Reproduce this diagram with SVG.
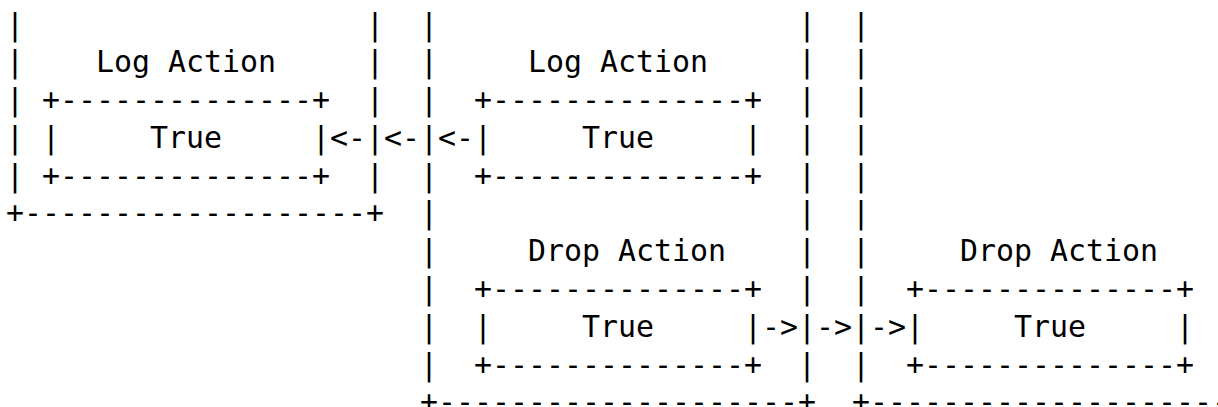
<svg xmlns="http://www.w3.org/2000/svg" width="1218" height="407" viewBox="0 0 1218 407">
<style>
text { font-family: "DejaVu Sans Mono", "Liberation Mono", monospace; font-size: 29.9px; fill: #000; }
</style>
<rect x="0" y="0" width="1218" height="407" fill="#fff"/>
<g id="outer-left">
<text x="6" y="34.5">|</text><text x="366" y="34.5">|</text>
<text x="6" y="72.3">|</text><text x="366" y="72.3">|</text>
<text x="6" y="110.1">|</text><text x="366" y="110.1">|</text>
<text x="6" y="147.8">|</text><text x="366" y="147.8">|</text>
<text x="6" y="185.6">|</text><text x="366" y="185.6">|</text>
<text x="6" y="223.4">+-------------------+</text>
</g>
<g id="log-action-1">
<text x="96" y="72.3">Log Action</text>
<text x="42" y="110.1">+--------------+</text>
<text x="42" y="147.8">|</text><text x="150" y="147.8">True</text><text x="312" y="147.8">|</text>
<text x="42" y="185.6">+--------------+</text>
</g>
<g id="outer-middle">
<text x="420" y="34.5">|</text><text x="798" y="34.5">|</text>
<text x="420" y="72.3">|</text><text x="798" y="72.3">|</text>
<text x="420" y="110.1">|</text><text x="798" y="110.1">|</text>
<text x="420" y="147.8">|</text><text x="798" y="147.8">|</text>
<text x="420" y="185.6">|</text><text x="798" y="185.6">|</text>
<text x="420" y="223.4">|</text><text x="798" y="223.4">|</text>
<text x="420" y="261.2">|</text><text x="798" y="261.2">|</text>
<text x="420" y="298.9">|</text><text x="798" y="298.9">|</text>
<text x="420" y="336.7">|</text><text x="798" y="336.7">|</text>
<text x="420" y="374.5">|</text><text x="798" y="374.5">|</text>
<text x="420" y="412.3">+--------------------+</text>
</g>
<g id="log-action-2">
<text x="528" y="72.3">Log Action</text>
<text x="474" y="110.1">+--------------+</text>
<text x="474" y="147.8">|</text><text x="582" y="147.8">True</text><text x="744" y="147.8">|</text>
<text x="474" y="185.6">+--------------+</text>
</g>
<g id="drop-action-1">
<text x="528" y="261.2">Drop Action</text>
<text x="474" y="298.9">+--------------+</text>
<text x="474" y="336.7">|</text><text x="582" y="336.7">True</text><text x="744" y="336.7">|</text>
<text x="474" y="374.5">+--------------+</text>
</g>
<g id="outer-right">
<text x="852" y="34.5">|</text>
<text x="852" y="72.3">|</text>
<text x="852" y="110.1">|</text>
<text x="852" y="147.8">|</text>
<text x="852" y="185.6">|</text>
<text x="852" y="223.4">|</text>
<text x="852" y="261.2">|</text>
<text x="852" y="298.9">|</text>
<text x="852" y="336.7">|</text>
<text x="852" y="374.5">|</text>
<text x="852" y="412.3">+----------------------</text>
</g>
<g id="drop-action-2">
<text x="960" y="261.2">Drop Action</text>
<text x="906" y="298.9">+--------------+</text>
<text x="906" y="336.7">|</text><text x="1014" y="336.7">True</text><text x="1176" y="336.7">|</text>
<text x="906" y="374.5">+--------------+</text>
</g>
<g id="connectors">
<text x="330" y="147.8">&lt;-</text>
<text x="384" y="147.8">&lt;-</text>
<text x="438" y="147.8">&lt;-</text>
<text x="762" y="336.7">-&gt;</text>
<text x="816" y="336.7">-&gt;</text>
<text x="870" y="336.7">-&gt;</text>
</g>
</svg>
